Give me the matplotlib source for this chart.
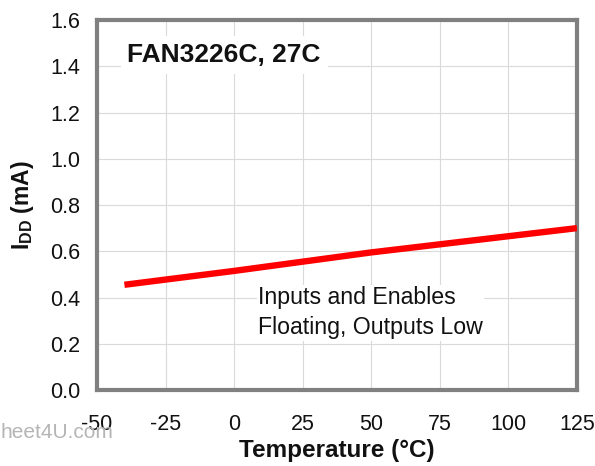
import matplotlib
matplotlib.use("Agg")
import matplotlib.pyplot as plt

temps = [-40, 0, 25, 50, 75, 100, 125]
idd = [0.455, 0.515, 0.555, 0.595, 0.630, 0.665, 0.700]
xticks = [-50, -25, 0, 25, 50, 75, 100, 125]
yticks = [0.0, 0.2, 0.4, 0.6, 0.8, 1.0, 1.2, 1.4, 1.6]
title_text = "FAN3226C, 27C"
note_text = "Inputs and Enables\nFloating, Outputs Low"

plt.rcParams['font.family'] = ['Liberation Sans', 'DejaVu Sans']
plt.rcParams['mathtext.fontset'] = 'custom'
plt.rcParams['mathtext.bf'] = 'Liberation Sans:bold'
plt.rcParams['mathtext.rm'] = 'Liberation Sans:bold'

fig = plt.figure(figsize=(5.95, 4.66), dpi=100)
ax = fig.add_axes([97/595, 1-390/466, 480/595, 370/466])

ax.plot(temps, idd, color='#ff0000', lw=4.6, solid_capstyle='butt', zorder=3)

ax.set_xlim(-50, 125)
ax.set_ylim(0, 1.6)
ax.set_xticks(xticks)
ax.set_yticks(yticks)
ax.set_xticklabels([str(t) for t in xticks])
ax.set_yticklabels([f"{v:.1f}" for v in yticks])
ax.tick_params(length=0, labelsize=15.5, colors='#111111')
ax.tick_params(axis='x', pad=17)
ax.tick_params(axis='y', pad=12)
ax.grid(True, color='#dadada', lw=0.8)
ax.set_axisbelow(True)
for s in ax.spines.values():
    s.set_color('#808080')
    s.set_linewidth(3.0)

ax.text(-38.9, 1.449, title_text, fontsize=19, fontweight='bold', va='center', ha='left',
        color='#111111', bbox=dict(facecolor='white', edgecolor='none', pad=5), zorder=4)
ax.text(8.7, 0.334, note_text, fontsize=16.7, va='center', ha='left', linespacing=1.38,
        color='#111111', bbox=dict(facecolor='white', edgecolor='none', pad=1), zorder=4)

ax.set_xlabel("Temperature (°C)", fontsize=17.5, fontweight='bold', labelpad=3, color='#111111')
ax.set_ylabel(r"$\mathbf{I_{DD}}$ (mA)", fontsize=16.5, fontweight='bold', labelpad=10, color='#111111')

fig.text(0.0, 1-432/466, "heet4U.com", fontsize=15, color='#b5b5b5', va='center', ha='left', zorder=0)

fig.savefig("out.png", dpi=100)
